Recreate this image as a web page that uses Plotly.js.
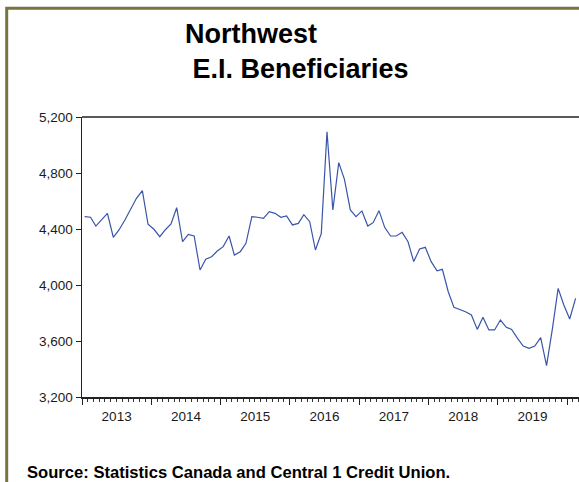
<!DOCTYPE html>
<html>
<head>
<meta charset="utf-8">
<script src="https://cdn.plot.ly/plotly-3.0.1.min.js"></script>
<style>html,body{margin:0;padding:0;background:#fff;}#chart{width:579px;height:482px;}</style>
</head>
<body>
<div id="chart"></div>
<script>
// Monthly E.I. beneficiaries, Northwest, Jan 2013 - Feb 2020
const startYear = 2013;
const beneficiaries = [
  4488, 4484, 4421, 4464, 4512, 4341, 4393, 4464, 4548, 4619, 4674, 4434,   // 2013
  4398, 4345, 4393, 4436, 4552, 4309, 4362, 4350, 4107, 4184, 4202, 4243,   // 2014
  4274, 4350, 4214, 4238, 4298, 4488, 4484, 4476, 4524, 4512, 4484, 4493,   // 2015
  4429, 4440, 4502, 4452, 4250, 4369, 5095, 4536, 4874, 4755, 4536, 4488,   // 2016
  4529, 4421, 4445, 4531, 4412, 4350, 4350, 4376, 4309, 4167, 4257, 4269,   // 2017
  4167, 4102, 4112, 3952, 3840, 3826, 3809, 3786, 3683, 3769, 3679, 3679,   // 2018
  3750, 3698, 3683, 3619, 3564, 3548, 3564, 3624, 3424, 3679, 3976, 3857,   // 2019
  3757, 3905                                                                  // 2020
];
const months = beneficiaries.map((_, i) => {
  const y = startYear + Math.floor(i / 12);
  const m = (i % 12) + 1;
  return y + '-' + String(m).padStart(2, '0') + '-15';
});
const yTicks = [3200, 3600, 4000, 4400, 4800, 5200];

const L = 82, T = 117, B = 85, W = 579, H = 482;
const pw = W - L, ph = H - T - B;
const px = v => (v - L) / pw;
const py = v => (H - B - v) / ph;

const trace = {
  x: months,
  y: beneficiaries,
  type: 'scatter',
  mode: 'lines',
  line: {color: '#3a55a8', width: 1.2},
  hoverinfo: 'x+y'
};

const layout = {
  width: W, height: H,
  margin: {l: L, r: 0, t: T, b: B, pad: 0},
  paper_bgcolor: '#ffffff',
  plot_bgcolor: '#ffffff',
  showlegend: false,
  font: {family: '"Liberation Sans", Arial, sans-serif', color: '#1a1a1a'},
  title: {
    text: 'Northwest<br>\u00a0E.I. Beneficiaries',
    font: {family: '"Liberation Sans", Arial, sans-serif', size: 27, color: '#000', weight: 'bold'},
    xref: 'container', yref: 'container',
    x: 185 / W, xanchor: 'left',
    y: 1 - 43 / H, yanchor: 'top'
  },
  xaxis: {
    type: 'date',
    range: ['2013-01-01', '2020-03-04'],
    showgrid: false, zeroline: false,
    showline: true, linecolor: '#222', linewidth: 1.5,
    ticks: 'outside', ticklen: 6, tickwidth: 1, tickcolor: '#222',
    dtick: 'M12', tick0: '2013-01-01',
    ticklabelmode: 'period', tickformat: '%Y',
    tickfont: {size: 13.5, color: '#1a1a1a'},
    minor: {dtick: 'M1', ticks: 'outside', ticklen: 3, tickwidth: 1, tickcolor: '#333', showgrid: false},
    fixedrange: true
  },
  yaxis: {
    range: [3200, 5200],
    tickvals: yTicks,
    tickformat: ',d',
    showgrid: false, zeroline: false,
    showline: true, linecolor: '#222', linewidth: 1.5,
    ticks: 'outside', ticklen: 5, tickwidth: 1, tickcolor: '#222',
    tickfont: {size: 13.5, color: '#1a1a1a'},
    fixedrange: true
  },
  shapes: [
    {type: 'line', xref: 'paper', yref: 'paper', x0: 0, x1: 1.05, y0: 1, y1: 1,
     line: {color: '#222', width: 1.6}},
    {type: 'rect', xref: 'paper', yref: 'paper',
     x0: px(6.7), x1: px(620), y0: py(8.3), y1: py(560),
     line: {color: '#77743f', width: 3}, fillcolor: 'rgba(0,0,0,0)'}
  ],
  annotations: [
    {text: 'Source: Statistics Canada and Central 1 Credit Union.',
     xref: 'paper', yref: 'paper', x: px(25), y: py(472),
     xanchor: 'left', yanchor: 'middle', showarrow: false,
     font: {family: '"Liberation Sans", Arial, sans-serif', size: 16.6, color: '#000', weight: 'bold'}}
  ]
};

Plotly.newPlot('chart', [trace], layout, {displayModeBar: false, staticPlot: true});
</script>
</body>
</html>
